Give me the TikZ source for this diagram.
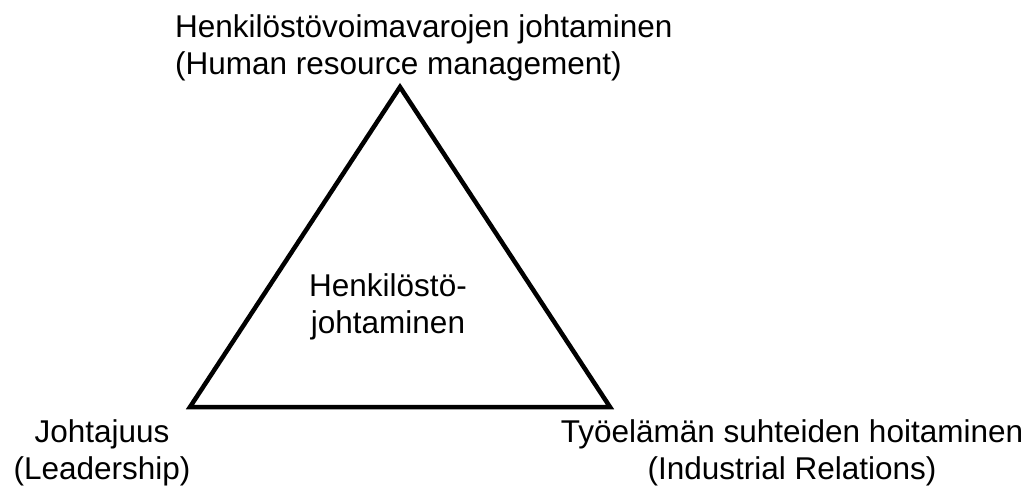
\documentclass[tikz,border=0pt]{standalone}
\usepackage{fontspec}
\setmainfont{Liberation Sans}
\begin{document}
\begin{tikzpicture}[x=1pt,y=-1pt,
  lbl/.style={align=center,inner sep=0pt,font=\fontsize{31.5}{37}\selectfont},
  tri/.style={line width=4.5pt,line join=miter}]
\useasboundingbox (0,0) rectangle (1033,486);
% corners of the triangle
\coordinate (top) at (400,87);
\coordinate (left) at (190,407);
\coordinate (right) at (610,407);
\draw[tri] (top) -- (left) -- (right) -- cycle;
% labels
\node[lbl,align=left,anchor=west] (hrm) at (175,48) {Henkilöstövoimavarojen johtaminen\\(Human resource management)};
\node[lbl] (core) at (388,307) {Henkilöstö-\\johtaminen};
\node[lbl] (lead) at (102,453) {Johtajuus\\(Leadership)};
\node[lbl] (ir) at (792,453) {Työelämän suhteiden hoitaminen\\(Industrial Relations)};
\end{tikzpicture}
\end{document}
